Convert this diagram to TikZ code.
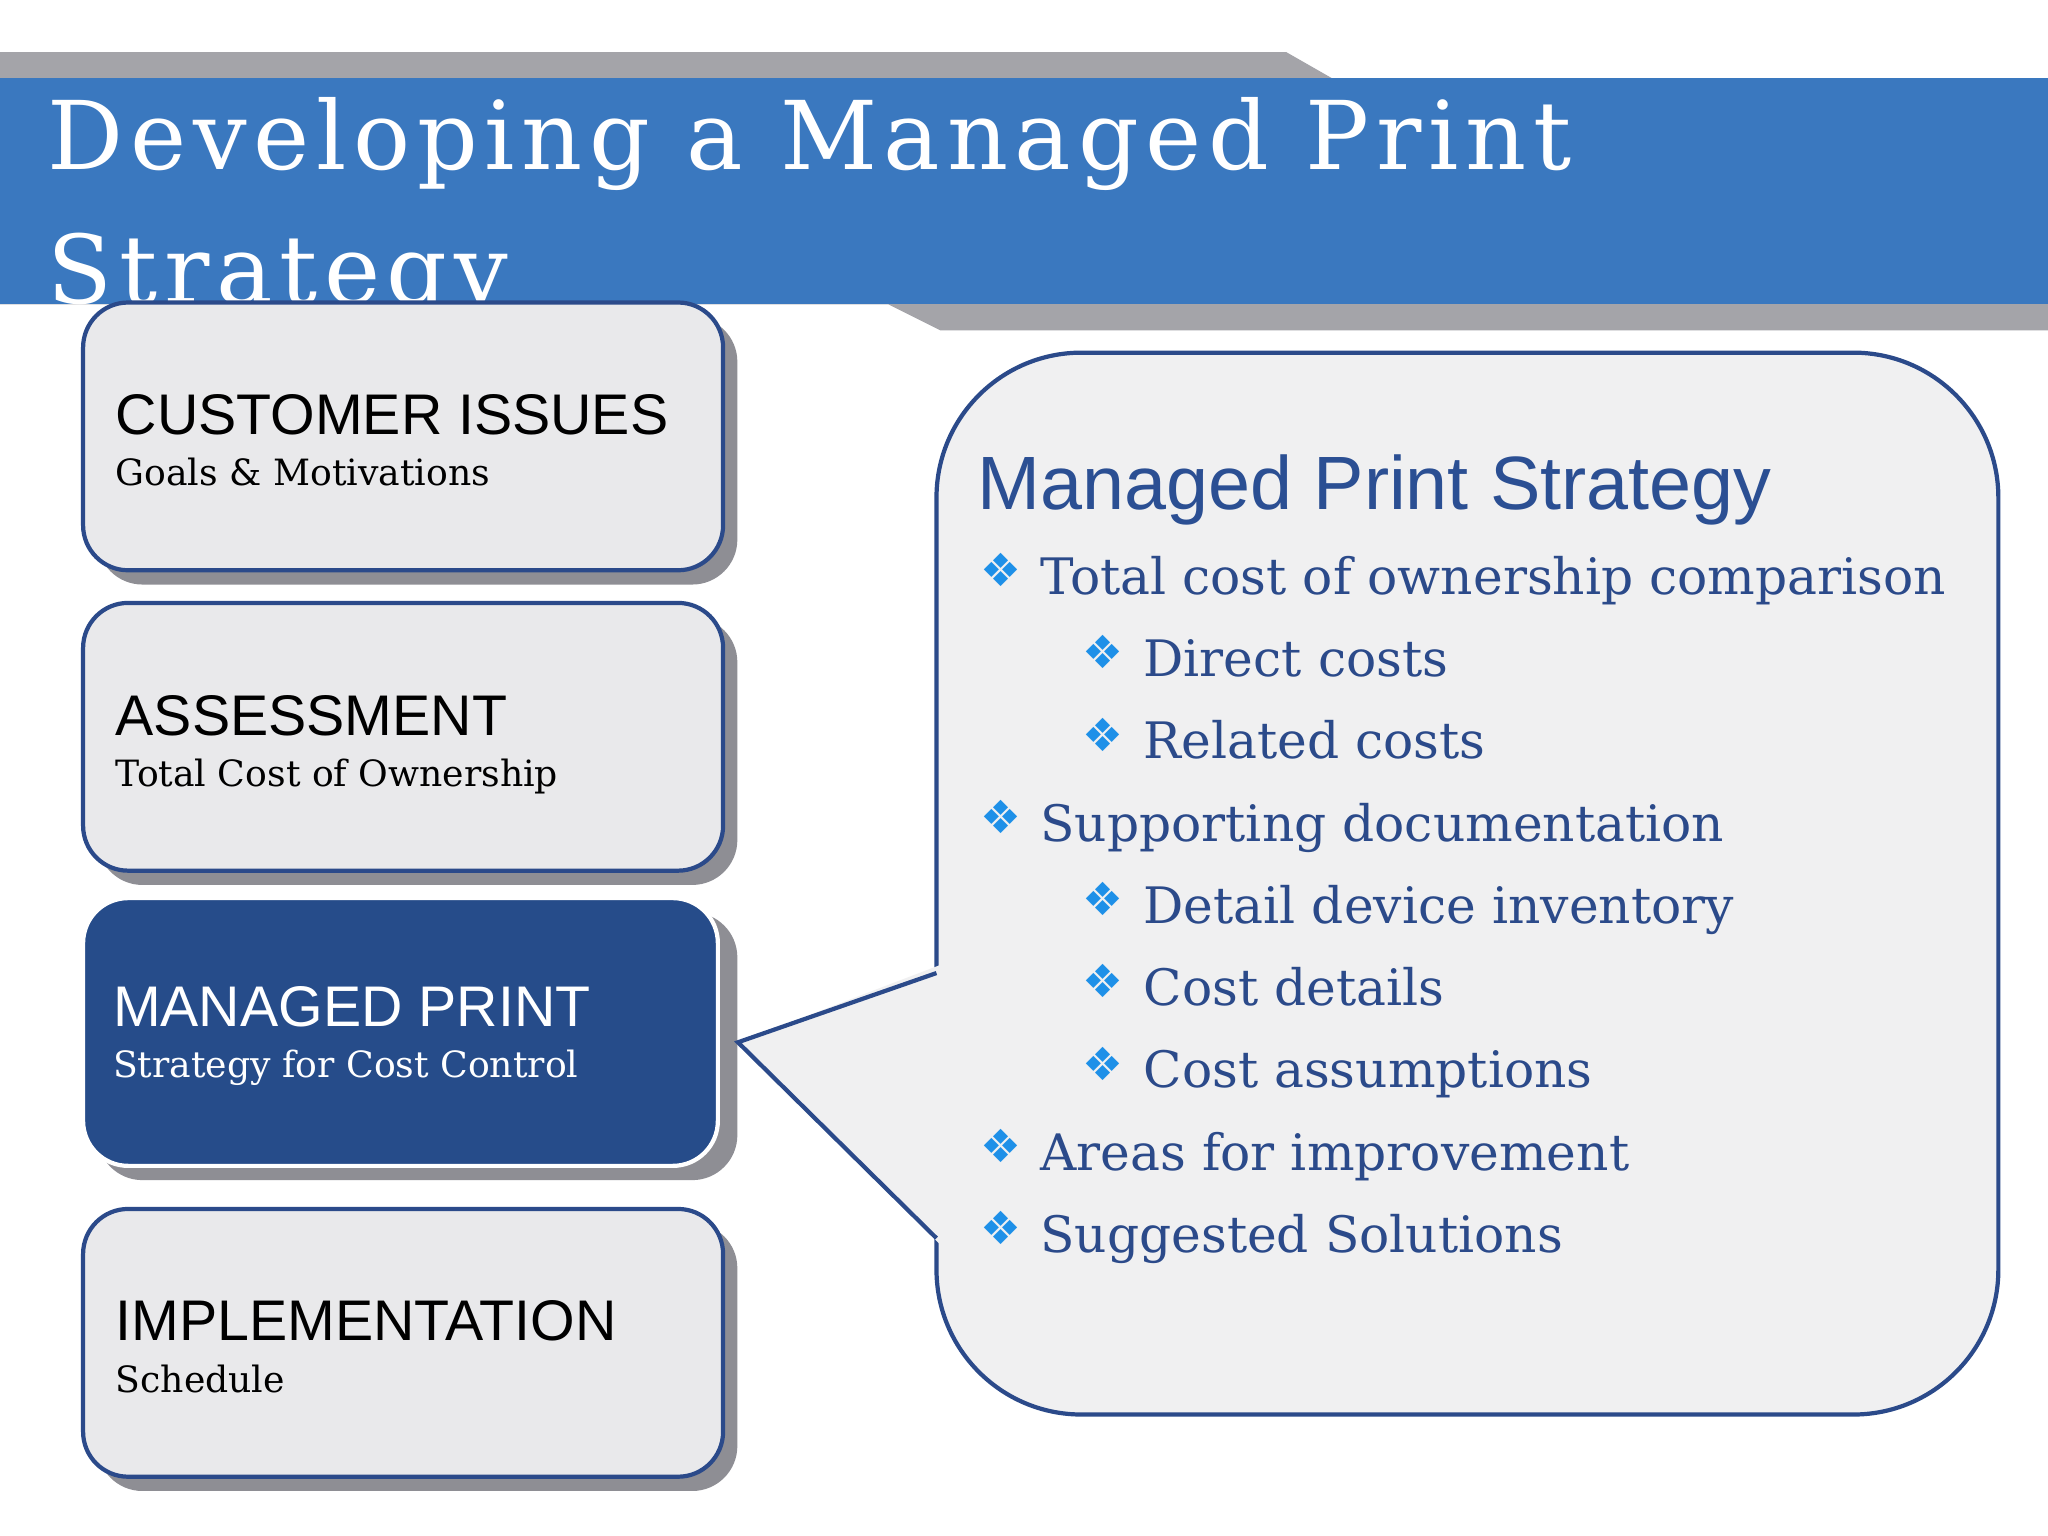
\documentclass[tikz,border=0pt]{standalone}
\usepackage{fontspec}
\setmainfont{DejaVu Serif}
\setsansfont{Liberation Sans}
\newfontfamily\symf{DejaVu Sans}
\definecolor{barblue}{HTML}{3A78BF}
\definecolor{navy}{HTML}{2B4A8A}
\definecolor{boxfill}{HTML}{E9E9EB}
\definecolor{darkbox}{HTML}{264C8A}
\definecolor{shade}{HTML}{8E8E94}
\definecolor{bul}{HTML}{1E90E8}
\definecolor{ttl}{HTML}{2B4F93}
\begin{document}
\begin{tikzpicture}[x=0.013061cm,y=-0.013061cm,
  stagebox/.style={draw=navy,line width=1.2pt,rounded corners=0.45cm,fill=boxfill,
    minimum width=490*0.013061cm,minimum height=205*0.013061cm,anchor=north west,inner sep=0},
  shadowbox/.style={fill=shade,rounded corners=0.45cm,minimum width=490*0.013061cm,
    minimum height=205*0.013061cm,anchor=north west,inner sep=0},
  head/.style={anchor=base west,font=\sffamily\fontsize{16.3}{20}\selectfont,inner sep=0},
  sub/.style={anchor=base west,font=\fontsize{10.3}{13}\selectfont,inner sep=0},
  lone/.style={anchor=base west,font=\fontsize{14.3}{16}\selectfont,text=navy,inner sep=0},
  bl/.style={anchor=base west,font=\symf\fontsize{13}{15}\selectfont,text=bul,inner sep=0},
  ttxt/.style={anchor=base west,text=white,inner sep=0,font=\fontsize{27}{40}\selectfont\addfontfeatures{LetterSpace=7}}]
\useasboundingbox (0,0) rectangle (1568,1176);
\fill[white] (0,0) rectangle (1568,1176);
% header
\fill[shade!80] (0,40)--(985,40)--(1020,60)--(1568,60)--(1568,253)--(720,253)--(680,233)--(0,233)--cycle;
\fill[barblue] (0,60) rectangle (1568,233);
\begin{scope}
\clip (0,60) rectangle (1568,233);
\node[ttxt] (title) at (36,130) {Developing a Managed Print};
\node[ttxt] (title2) at (36,232) {Strategy};
\end{scope}
% left boxes
\foreach \y/\n in {230/a,460/b,686/c,924/d}{
  \node[shadowbox] (s\n) at (74,\y+12) {};
}
\node[stagebox] (b1) at (62,230) {};
\node[stagebox] (b2) at (62,460) {};
\node[stagebox,fill=darkbox,draw=white,minimum width=486*0.013061cm] (b3) at (62,686) {};
\node[stagebox] (b4) at (62,924) {};
\node[head] (h1) at (88,333) {CUSTOMER ISSUES};
\node[sub] (t1) at (88,372) {Goals \& Motivations};
\node[head] (h2) at (88,563) {ASSESSMENT};
\node[sub] (t2) at (88,602) {Total Cost of Ownership};
\node[head,text=white] (h3) at (86,786) {MANAGED PRINT};
\node[sub,text=white] (t3) at (86,825) {Strategy for Cost Control};
\node[head] (h4) at (88,1026) {IMPLEMENTATION};
\node[sub] (t4) at (88,1066) {Schedule};
% callout
\draw[navy,line width=1.2pt,fill=boxfill!70!white,rounded corners=1.45cm] (717,270) rectangle (1530,1083);
\fill[boxfill!70!white] (565,798)--(722,738)--(722,955)--cycle;
\coordinate (tip) at (565,798);
\coordinate (p1) at (717,745);
\coordinate (p2) at (717,948);
\draw[navy,line width=1.2pt] (p1)--(tip)--(p2);
\node[anchor=base west,inner sep=0,text=ttl,font=\sffamily\fontsize{21.5}{26}\selectfont] (ct) at (748,390) {Managed Print Strategy};
\foreach \yy/\lv/\tx [count=\i] in {
  455/0/Total cost of ownership comparison,
  518/1/Direct costs,
  581/1/Related costs,
  644/0/Supporting documentation,
  707/1/Detail device inventory,
  770/1/Cost details,
  833/1/Cost assumptions,
  896/0/Areas for improvement,
  959/0/Suggested Solutions}{
  \node[bl] (m\i) at (750+78*\lv,\yy-6) {❖};
  \node[lone] (l\i) at (796+79*\lv,\yy) {\tx};
}
\end{tikzpicture}
\end{document}
